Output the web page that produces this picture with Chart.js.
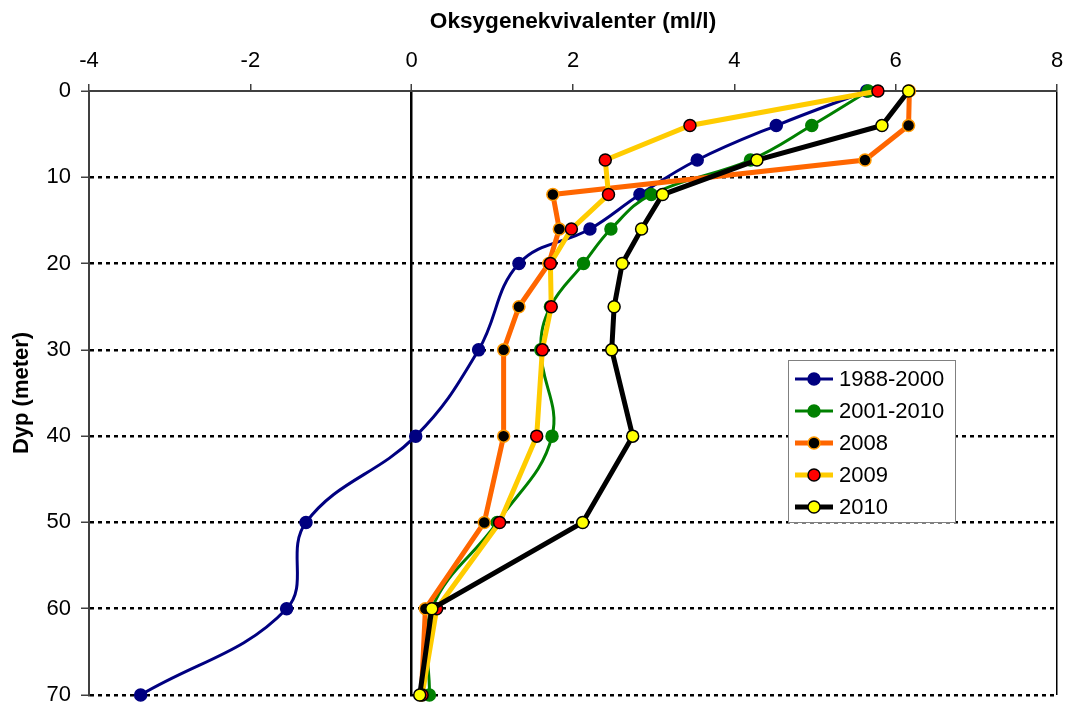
<!DOCTYPE html>
<html>
<head>
<meta charset="utf-8">
<title>Oksygenekvivalenter</title>
<script src="https://cdn.jsdelivr.net/npm/chart.js@4.4.1/dist/chart.umd.min.js"></script>
<style>
    html, body { margin: 0; padding: 0; background: #fff; }
    #wrap { width: 1067px; height: 706px; }
</style>
</head>
<body>
<div id="wrap"><canvas id="profil" width="1067" height="706"></canvas></div>
<script>
"use strict";

// depth (meter) and oxygen equivalents (ml/l)
var depths  = [0, 4, 8, 12, 16, 20, 25, 30, 40, 50, 60, 70];
var s1988   = [5.64, 4.52, 3.54, 2.83, 2.21, 1.33, null, 0.83, 0.05, -1.31, -1.55, -3.36];
var s2001   = [5.66, 4.96, 4.20, 2.97, 2.47, 2.13, 1.72, 1.60, 1.74, 1.06, 0.25, 0.22];
var s2008   = [6.17, 6.16, 5.62, 1.75, 1.83, 1.70, 1.33, 1.14, 1.14, 0.90, 0.17, 0.12];
var s2009   = [5.78, 3.45, 2.40, 2.44, 1.98, 1.72, 1.73, 1.62, 1.55, 1.09, 0.31, 0.13];
var s2010   = [6.16, 5.83, 4.28, 3.11, 2.85, 2.61, 2.51, 2.48, 2.74, 2.12, 0.25, 0.10];
var names   = ['1988-2000', '2001-2010', '2008', '2009', '2010'];
var xTicks  = [-4, -2, 0, 2, 4, 6, 8];
var yTicks  = [0, 10, 20, 30, 40, 50, 60, 70];

var FONT = '"Liberation Sans", Arial, sans-serif';

// pair each value with its depth, skip missing ones
function toPoints(values) {
    var pts = [];
    for (var i = 0; i < values.length; i++) {
        if (values[i] !== null) pts.push({x: values[i], y: depths[i]});
    }
    return pts;
}

function series(label, values, line, width, fill, edge, smooth, order) {
    return {
        label: label,
        data: toPoints(values),
        borderColor: line,
        borderWidth: width,
        pointRadius: 6,
        pointHoverRadius: 6,
        pointBackgroundColor: fill,
        pointBorderColor: edge,
        pointBorderWidth: 1.5,
        tension: smooth ? 0.4 : 0,
        clip: false,
        order: order
    };
}

// legend box sitting inside the plot, like the original
var insideLegend = {
    id: 'insideLegend',
    afterDatasetsDraw: function(chart) {
        var ctx = chart.ctx;
        var bx = 788, by = 360, bw = 167, bh = 162;
        ctx.save();
        ctx.fillStyle = '#fff';
        ctx.fillRect(bx, by, bw, bh);
        ctx.strokeStyle = '#808080';
        ctx.lineWidth = 1;
        ctx.strokeRect(bx + 0.5, by + 0.5, bw, bh);
        chart.data.datasets.forEach(function(ds, i) {
            var cy = by + 19 + i * 32;
            ctx.strokeStyle = ds.borderColor;
            ctx.lineWidth = ds.borderWidth;
            ctx.beginPath();
            ctx.moveTo(bx + 7, cy);
            ctx.lineTo(bx + 45, cy);
            ctx.stroke();
            ctx.beginPath();
            ctx.arc(bx + 26, cy, ds.pointRadius, 0, Math.PI * 2);
            ctx.fillStyle = ds.pointBackgroundColor;
            ctx.fill();
            ctx.lineWidth = ds.pointBorderWidth;
            ctx.strokeStyle = ds.pointBorderColor;
            ctx.stroke();
            ctx.fillStyle = '#000';
            ctx.font = '22px ' + FONT;
            ctx.textBaseline = 'middle';
            ctx.fillText(ds.label, bx + 51, cy + 1);
        });
        ctx.restore();
    }
};

var ctx = document.getElementById('profil').getContext('2d');

new Chart(ctx, {
    type: 'line',
    data: {
        datasets: [
            series(names[0], s1988, '#000080', 3, '#000080', '#000080', true, 5),
            series(names[1], s2001, '#008000', 3, '#008000', '#008000', true, 4),
            series(names[2], s2008, '#FF6600', 5, '#000000', '#FF9900', false, 3),
            series(names[3], s2009, '#FFCC00', 5, '#FF0000', '#000000', false, 2),
            series(names[4], s2010, '#000000', 5, '#FFFF00', '#000000', false, 1)
        ]
    },
    options: {
        responsive: false,
        devicePixelRatio: 1,
        animation: false,
        layout: { padding: 0 },
        plugins: {
            legend: { display: false },
            tooltip: { enabled: false }
        },
        scales: {
            x: {
                type: 'linear',
                position: 'top',
                min: -4,
                max: 8,
                afterBuildTicks: function(scale) {
                    scale.ticks = xTicks.map(function(v) { return {value: v}; });
                },
                // fixed box, and only a small margin on the right
                afterFit: function(scale) {
                    scale.height = 91;
                    scale.paddingLeft = 0;
                    scale.paddingRight = 10;
                },
                ticks: {
                    color: '#000',
                    padding: 12,
                    font: {family: FONT, size: 22, lineHeight: 1}
                },
                grid: {
                    color: function(c) {
                        if (c.tick && c.tick.value === 0) return '#000';
                        if (c.tick && c.tick.value === 8) return '#000';
                        return 'rgba(0,0,0,0)';
                    },
                    lineWidth: function(c) {
                        return c.tick && c.tick.value === 0 ? 2.5 : 1.5;
                    },
                    tickColor: '#404040',
                    tickLength: 7,
                    tickWidth: 1.5
                },
                border: { display: true, color: '#404040', width: 2 },
                title: {
                    display: true,
                    text: 'Oksygenekvivalenter (ml/l)',
                    color: '#000',
                    font: {family: FONT, size: 22.6, weight: 'bold', lineHeight: 1.2},
                    padding: {top: 8, bottom: 0}
                }
            },
            y: {
                type: 'linear',
                reverse: true,
                min: 0,
                max: 70,
                afterBuildTicks: function(scale) {
                    scale.ticks = yTicks.map(function(v) { return {value: v}; });
                },
                afterFit: function(scale) {
                    scale.width = 89;
                    scale.paddingTop = 0;
                    scale.paddingBottom = 11;
                },
                ticks: {
                    color: '#000',
                    padding: 10,
                    font: {family: FONT, size: 22, lineHeight: 1}
                },
                grid: {
                    color: function(c) {
                        return c.tick && c.tick.value === 0 ? 'rgba(0,0,0,0)' : '#000';
                    },
                    lineWidth: 2.5,
                    tickColor: '#404040',
                    tickLength: 8,
                    tickWidth: 1.5,
                    tickBorderDash: []
                },
                border: { display: true, color: '#404040', width: 2, dash: [4, 4] },
                title: {
                    display: true,
                    text: 'Dyp (meter)',
                    color: '#000',
                    font: {family: FONT, size: 22, weight: 'bold', lineHeight: 1.2},
                    padding: {top: 9, bottom: 0}
                }
            }
        }
    },
    plugins: [insideLegend]
});
</script>
</body>
</html>
